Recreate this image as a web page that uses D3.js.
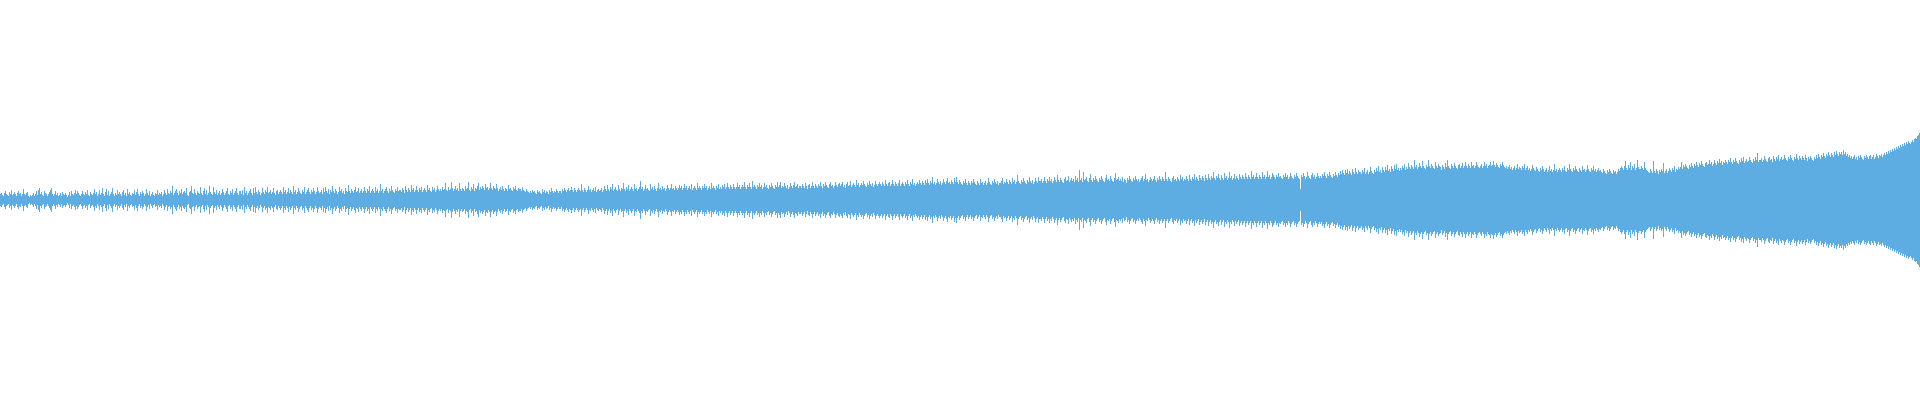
<!DOCTYPE html>
<html>
<head>
<meta charset="utf-8">
<script src="https://cdn.jsdelivr.net/npm/d3@7"></script>
<style>
html,body{margin:0;padding:0;background:#fff;overflow:hidden;}
svg{display:block;}
</style>
</head>
<body>
<svg id="chart" width="1920" height="400"></svg>
<script>
// Peak amplitude of each column of the waveform (symmetric around zero)
const peaks = [
6,7,5,4,7,9,6,5,4,8,6,10,5,6,8,6,4,7,9,6,7,4,6,11,6,5,7,8,4,3,5,4,5,7,4,6,9,5,10,12,
6,8,5,4,9,7,6,4,6,8,10,12,6,4,6,9,5,7,4,5,7,4,8,6,5,7,5,3,5,8,4,9,6,5,7,10,6,9,7,5,
4,6,9,6,5,8,6,10,5,4,8,6,5,7,11,6,8,4,6,10,5,7,12,6,4,8,11,5,9,4,6,8,12,6,4,7,5,10,6,8,
6,4,8,10,5,7,4,11,6,8,5,4,7,6,10,5,8,11,6,4,8,6,9,7,4,6,11,7,5,9,4,6,8,5,4,7,6,10,5,7,
6,8,4,6,10,7,5,11,7,6,9,7,14,5,7,9,11,7,5,9,7,11,6,8,9,7,12,5,4,8,9,14,7,6,11,7,5,9,7,6,
13,7,5,9,12,6,10,5,7,14,8,6,5,13,8,6,10,5,7,9,5,7,11,8,5,7,9,12,6,5,9,7,11,5,7,9,12,7,5,9,
9,6,10,5,13,7,9,5,7,9,11,7,5,12,7,13,8,6,10,8,5,7,12,8,6,10,8,13,7,8,10,6,8,12,7,5,9,10,6,8,
10,8,6,13,8,10,6,8,12,7,10,8,6,14,8,10,6,8,12,9,7,6,10,8,13,6,8,10,12,8,6,10,8,12,9,6,8,13,9,7,
8,10,6,12,8,13,9,7,11,6,10,8,14,9,7,11,9,6,8,13,9,11,7,9,6,12,9,8,15,9,7,11,9,7,10,13,8,9,12,7,
9,11,7,9,13,9,7,11,9,14,7,9,11,9,7,13,9,11,7,9,16,9,11,7,9,11,13,9,7,11,9,14,10,8,7,11,9,13,9,10,
10,8,12,10,7,14,10,8,12,10,8,15,10,12,8,10,14,10,8,12,10,13,8,10,12,10,8,15,10,12,9,8,13,10,12,8,10,14,11,9,
11,9,13,10,11,17,10,9,13,10,11,18,12,9,11,14,10,12,9,17,11,9,12,11,9,14,11,12,18,10,9,13,11,16,9,12,11,14,17,10,
13,11,14,12,10,16,12,13,10,12,17,12,10,14,12,11,16,12,9,11,13,10,14,11,9,12,11,9,15,11,12,10,9,13,11,14,10,9,12,11,
11,9,13,10,9,8,11,9,8,7,9,7,10,8,9,7,6,10,8,9,7,6,11,8,10,7,9,8,6,10,8,12,9,7,9,8,11,9,7,9,
9,7,11,9,12,10,8,10,12,9,10,13,10,8,12,10,8,10,12,10,9,16,10,8,12,10,8,10,14,10,11,8,10,12,9,13,8,10,11,9,
10,12,8,10,14,11,9,15,11,9,13,11,16,9,11,13,10,9,15,11,9,12,11,17,11,9,13,11,15,9,11,13,11,9,16,11,12,9,11,13,
19,11,13,9,11,15,11,12,10,9,16,11,13,10,14,11,9,12,17,11,12,10,14,11,12,9,11,15,12,10,12,16,11,12,10,14,12,10,12,15,
12,14,10,12,16,12,14,10,12,14,11,16,10,12,14,12,10,17,12,14,12,10,14,12,16,12,14,10,12,14,11,17,12,14,12,10,14,12,16,11,
13,11,15,13,16,11,13,17,13,11,15,13,11,16,13,11,13,17,13,15,11,13,15,13,18,13,11,15,13,17,13,11,19,13,15,13,11,15,13,17,
13,15,11,13,17,13,15,12,11,15,13,17,14,12,11,15,13,18,13,15,18,12,14,13,17,14,12,15,11,13,17,14,12,15,18,13,14,16,12,14,
14,12,16,14,12,17,14,11,15,16,12,14,18,14,12,16,14,12,16,14,18,14,12,16,14,18,15,13,12,16,18,14,15,12,14,18,15,13,16,17,
14,16,18,13,15,12,16,18,14,15,19,13,15,17,15,13,20,15,17,13,15,17,15,19,16,14,13,17,15,19,16,14,17,13,15,19,16,14,16,18,
16,14,18,16,14,20,16,14,17,18,14,16,20,16,14,18,16,14,17,20,14,16,18,16,14,18,16,20,16,14,18,16,21,15,17,14,16,18,16,20,
17,15,19,17,15,20,17,21,17,15,19,17,23,16,18,15,17,21,18,16,19,15,17,21,18,16,19,22,17,18,16,20,18,16,22,18,23,18,16,20,
18,16,15,19,17,21,17,15,19,17,15,19,17,21,18,16,15,19,17,15,21,17,18,15,17,19,15,17,22,18,16,15,19,17,21,18,16,19,15,17,
17,19,22,16,18,17,21,18,16,20,18,16,22,18,20,16,18,25,19,17,16,20,18,22,19,17,16,20,18,23,19,17,20,16,18,22,19,17,23,19,
19,21,17,19,23,19,17,21,19,23,19,21,17,19,23,20,18,25,20,18,22,20,18,17,21,23,19,20,24,18,20,22,19,21,18,24,20,22,18,30,
20,22,18,28,20,21,23,19,18,22,26,20,18,22,20,24,21,19,18,22,20,24,21,19,18,22,25,20,21,19,24,21,19,18,22,27,20,21,23,19,
21,19,23,18,21,20,17,22,20,24,21,19,18,22,20,24,21,19,21,18,20,22,24,19,21,26,20,21,18,20,23,21,19,21,24,20,18,22,20,24,
21,19,23,21,19,28,21,19,23,21,19,18,22,24,20,21,19,23,21,19,25,21,23,19,21,20,24,21,19,25,21,19,23,21,26,20,23,21,19,25,
22,20,24,22,19,25,22,20,26,22,20,24,22,28,22,20,24,22,26,22,20,25,22,20,27,22,24,20,22,28,22,24,20,22,26,21,24,22,20,26,
23,21,25,23,21,27,23,21,25,23,21,29,23,25,21,23,27,23,21,25,23,21,28,23,25,21,23,29,23,25,21,23,27,25,23,21,25,23,27,23,
24,22,21,25,23,27,23,25,21,23,27,24,22,21,25,23,27,24,22,21,11,25,23,27,24,21,23,28,24,22,21,25,27,23,25,21,23,27,24,22,
24,22,26,24,28,24,22,26,24,28,25,23,22,26,24,28,25,23,27,25,29,26,30,27,25,30,27,31,26,29,27,25,31,28,26,32,28,26,30,28,
28,26,30,28,32,26,28,30,26,28,33,29,27,26,30,28,32,29,34,28,30,27,33,30,28,33,30,35,29,31,28,34,31,29,35,31,36,30,32,29,
32,30,34,32,36,30,33,31,37,33,31,35,33,31,40,33,35,31,33,37,34,32,39,34,32,31,35,33,40,34,32,36,34,32,31,38,34,32,36,34,
33,30,35,33,31,37,33,40,34,32,31,36,34,32,37,34,32,31,35,36,32,34,37,32,34,38,34,32,36,34,32,38,34,35,32,34,38,35,33,32,
34,36,32,34,38,34,36,32,34,35,38,34,35,39,35,33,37,35,33,32,36,34,38,35,33,32,34,31,33,35,31,33,30,32,34,30,32,36,31,33,
32,30,34,32,36,30,32,34,30,32,29,31,35,32,30,29,33,31,29,28,32,30,34,31,28,30,32,28,30,34,29,31,28,30,36,29,31,28,30,32,
30,28,32,30,34,29,28,32,30,36,31,29,28,32,30,34,31,29,28,32,30,28,34,30,31,28,30,35,31,29,28,32,30,34,29,31,28,30,32,29,
30,28,27,31,29,27,26,30,28,31,29,27,26,30,28,29,26,28,31,29,32,34,32,30,34,39,32,30,35,32,38,30,34,32,36,30,32,40,33,31,
31,34,32,30,38,32,30,29,28,27,31,29,27,39,29,27,31,29,26,30,28,31,29,37,27,29,31,27,29,32,30,28,32,30,34,28,31,30,33,31,
33,38,31,35,33,36,34,32,31,35,33,37,34,32,36,34,38,35,33,37,35,39,36,34,33,37,38,35,36,40,36,38,34,36,40,37,35,39,37,41,
37,39,35,38,37,40,38,36,40,38,42,38,36,40,38,42,39,37,36,40,38,42,39,43,37,39,41,38,39,43,40,38,37,41,39,43,40,47,38,40,
40,42,38,40,44,41,39,38,42,43,40,41,38,44,41,39,43,41,45,39,41,43,40,41,45,42,40,39,43,41,45,42,40,39,43,41,46,42,40,44,
42,40,44,42,40,45,42,39,43,41,44,42,40,39,43,41,45,42,46,43,41,45,43,47,44,42,46,44,48,45,43,47,45,43,48,45,49,46,44,48,
46,48,45,50,46,48,44,46,43,45,42,44,41,43,45,41,43,40,44,42,45,43,41,40,44,42,45,43,41,44,45,41,43,45,41,43,46,44,42,45,
44,46,43,45,47,45,48,46,49,47,50,48,51,49,52,50,53,51,54,52,55,53,56,54,57,55,58,56,59,57,56,58,60,58,61,62,61,64,65,67
];
const waveColor = "#5dade2";

const W = 1920, H = 400;
const svg = d3.select("#chart");
const x = d3.scaleBand().domain(d3.range(peaks.length)).range([0, W]).paddingInner(0).paddingOuter(0);
const y = d3.scaleLinear().domain([-200, 200]).range([H, 0]);

svg.append("g")
  .attr("shape-rendering", "crispEdges")
  .selectAll("rect")
  .data(peaks)
  .join("rect")
  .attr("x", (d, i) => x(i))
  .attr("width", x.bandwidth())
  .attr("y", d => y(d))
  .attr("height", d => y(-d) - y(d))
  .attr("fill", waveColor);
</script>
</body>
</html>
